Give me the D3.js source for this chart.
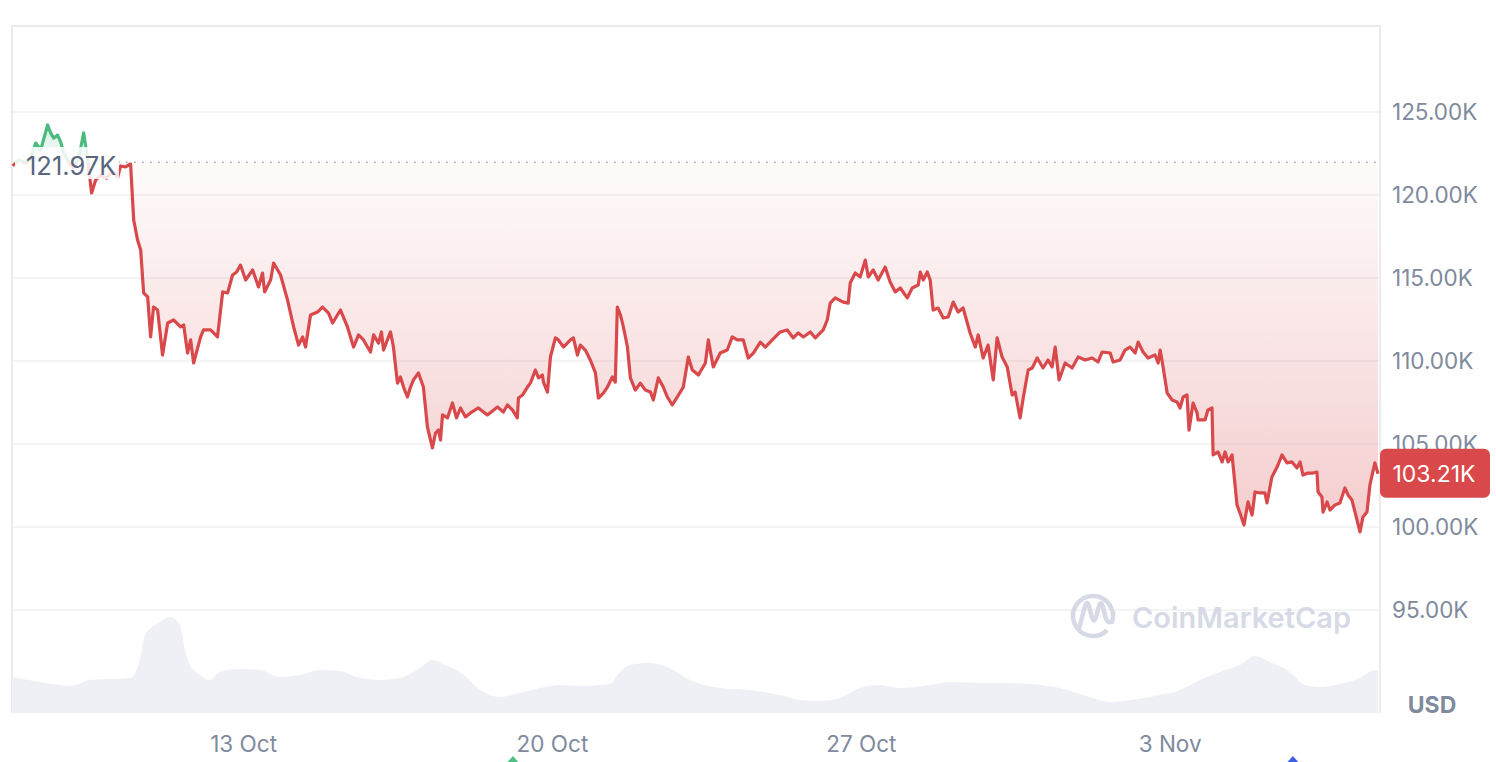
<!DOCTYPE html>
<html><head><meta charset="utf-8">
<script src="https://cdn.jsdelivr.net/npm/d3@7"></script>
<style>body{margin:0;background:#fff}svg{display:block;font-family:Inter,"Noto Sans",sans-serif}</style>
</head><body><svg id="c" width="1496" height="762"></svg>
<script>
// ---- data ----
const startTime = new Date(2025, 9, 7, 18, 0); // Oct 7 18:00
const endHour = 743.1;
const openPrice = 121.97; // reference (K USD)
const lastPrice = 103.21;
const priceHours = [0.4,3.6,7.4,10.2,12.9,15.6,19.4,21.0,22.7,24.8,26.5,28.1,30.8,33.5,36.3,39.0,41.2,43.3,45.5,48.2,51.5,54.8,57.5,59.1,61.8,64.5,66.2,68.3,70.0,71.6,73.8,75.4,77.0,79.2,81.9,84.7,87.9,91.7,93.4,95.5,97.2,98.8,102.6,104.2,108.0,111.8,114.6,117.3,120.0,122.2,124.3,127.1,130.9,134.1,136.3,137.4,140.7,142.3,146.1,149.9,153.2,155.9,158.1,159.7,162.4,166.2,168.9,172.2,174.4,178.7,182.5,185.8,188.5,191.2,193.4,195.0,196.7,199.4,201.0,202.1,205.9,207.5,209.7,211.3,213.0,215.1,216.8,218.4,221.1,223.8,226.0,228.7,230.4,232.0,233.1,234.2,236.9,239.6,241.8,244.0,246.7,249.4,253.7,258.6,264.1,267.3,269.5,272.2,274.9,275.5,277.7,280.4,282.0,284.7,286.4,288.5,289.1,291.3,292.9,295.6,297.2,300.0,303.8,305.4,307.6,309.2,311.9,314.6,317.4,319.0,321.7,323.9,326.6,328.2,329.3,331.0,332.6,334.8,336.4,339.1,341.8,344.5,347.3,348.9,351.6,354.3,356.5,359.2,361.9,365.2,367.9,370.1,373.4,377.2,378.8,381.5,385.3,389.1,391.8,394.6,397.8,400.5,403.3,407.1,409.8,413.6,417.9,421.7,425.0,427.7,430.5,434.3,437.0,441.3,443.5,445.1,447.8,452.2,454.9,456.0,458.7,461.4,464.2,465.8,468.5,471.2,475.0,477.7,480.5,483.2,487.0,489.7,493.0,494.1,495.7,497.9,499.5,501.1,503.8,506.6,509.3,512.0,514.7,517.4,521.2,524.0,525.6,528.3,531.0,533.8,535.9,538.6,541.4,544.1,545.7,548.4,550.1,552.8,555.0,557.7,560.9,563.6,565.8,567.5,569.6,572.9,576.7,580.0,583.8,587.6,590.8,593.0,597.4,599.0,602.8,605.5,608.2,611.0,612.6,615.3,618.0,621.8,623.5,624.6,626.2,628.4,631.1,633.8,635.4,637.1,639.2,640.3,642.5,644.7,645.2,649.0,650.6,652.8,653.4,656.1,658.3,659.9,661.5,663.7,666.4,668.0,670.2,672.4,674.6,676.2,678.9,681.6,682.7,685.4,688.2,690.9,693.6,696.3,699.0,700.7,702.3,705.0,707.7,709.9,710.5,712.6,713.2,715.4,717.0,719.7,722.4,725.1,726.8,728.9,730.6,733.3,734.9,737.1,738.7,741.4,743.1];
const prices = [121.75,122.11,121.93,122.23,123.13,122.71,124.22,123.74,123.43,123.61,123.19,122.53,121.99,121.63,122.23,123.74,122.11,120.12,120.90,121.20,121.02,121.39,121.08,121.75,121.69,121.87,118.49,117.29,116.69,114.10,113.86,111.45,113.25,113.07,110.36,112.29,112.47,112.05,112.17,110.48,111.27,109.88,111.45,111.87,111.87,111.45,114.16,114.10,115.18,115.36,115.78,114.88,115.48,114.46,115.30,114.16,114.88,115.90,115.18,113.67,112.05,110.96,111.45,110.84,112.77,112.95,113.25,112.89,112.29,113.07,112.05,110.84,111.57,111.27,110.84,110.54,111.57,111.08,111.75,110.66,111.75,110.84,108.67,109.04,108.43,107.83,108.43,108.86,109.28,108.43,106.02,104.76,105.66,105.84,105.24,106.75,106.57,107.47,106.57,107.17,106.63,106.87,107.17,106.75,107.23,106.93,107.35,107.05,106.57,107.77,107.95,108.43,108.67,109.46,108.98,109.16,108.73,108.13,110.24,111.39,111.27,110.84,111.27,111.39,110.36,110.96,110.66,110.06,109.28,107.77,108.07,108.43,109.04,108.73,113.25,112.77,112.05,110.84,108.98,108.25,108.67,108.25,108.13,107.65,108.98,108.43,107.83,107.35,107.83,108.43,110.24,109.46,109.16,109.88,111.27,109.64,110.48,110.66,111.45,111.27,111.27,110.18,110.48,111.14,110.84,111.27,111.75,111.87,111.39,111.69,111.45,111.75,111.39,111.87,112.47,113.49,113.80,113.55,113.49,114.70,115.30,115.06,116.08,115.06,115.48,114.88,115.66,114.76,114.16,114.40,113.80,114.40,114.58,115.36,114.88,115.36,114.88,113.07,113.19,112.59,112.65,113.55,112.95,113.19,111.69,110.84,111.57,110.18,110.96,108.86,111.39,110.24,109.64,107.95,108.13,106.57,107.77,109.46,109.58,110.18,109.58,110.06,109.64,110.84,108.86,109.88,109.58,110.24,110.06,110.18,109.94,110.54,110.48,109.94,110.06,110.66,110.84,110.48,111.14,110.54,110.18,110.36,109.88,110.66,109.64,108.07,107.65,107.53,107.17,107.83,107.95,105.84,107.47,106.87,106.45,106.45,107.05,107.17,104.34,104.52,103.92,104.52,103.92,104.34,101.33,100.84,100.12,101.51,100.72,102.11,102.05,102.05,101.45,103.01,103.61,104.34,103.86,103.92,103.55,103.92,103.13,103.25,103.25,103.31,102.11,101.81,100.90,101.51,101.02,101.33,101.45,102.35,101.93,101.63,100.90,99.70,100.60,100.90,102.53,103.86,103.21];
const volumeHours = [0,15.2,31.6,42.4,64.2,69.6,72.3,80.5,85.9,91.4,94.1,96.8,102.3,107.7,113.1,124.0,134.9,145.8,156.7,167.5,178.4,189.3,200.2,211.1,221.9,228.5,235.5,243.7,254.6,265.5,276.3,287.2,298.1,309.0,319.9,325.3,330.7,336.2,347.1,357.9,368.8,385.1,401.5,417.8,428.7,439.5,450.4,461.3,472.2,483.1,499.4,510.3,526.6,537.5,553.8,570.1,586.4,597.3,608.2,624.5,635.4,646.2,657.1,668.0,676.2,684.3,695.2,703.4,711.5,722.4,733.3,741.4,743.1];
const volumes = [72,62,54,66,70,106,156,182,192,176,126,96,76,66,82,88,86,72,76,86,84,70,66,70,90,106,96,82,46,32,40,50,56,54,56,58,82,96,100,90,66,50,46,36,26,24,30,50,56,50,56,62,60,60,58,50,32,22,26,36,46,66,82,96,114,102,82,56,52,58,70,86,86];
const yTicks = [95,100,105,110,115,120,125];
const yTickLabels = ["95.00K","100.00K","105.00K","110.00K","115.00K","120.00K","125.00K"];
const xTickDates = [new Date(2025,9,13), new Date(2025,9,20), new Date(2025,9,27), new Date(2025,10,3)];
const xTickLabels = ["13 Oct","20 Oct","27 Oct","3 Nov"];
const eventMarkers = [{date:new Date(2025,9,19,2,30), color:"#4fbf85"},{date:new Date(2025,10,5,18,48), color:"#3f5fe0"}];

// ---- layout ----
const L = 12, R = 1380, T = 26, B = 713;
const RED = "#d9484a", GREEN = "#4cbb7f", TXT = "#808a9d";
const svg = d3.select("#c");
const hr = h => new Date(+startTime + h * 3600e3);
const x = d3.scaleTime().domain([startTime, hr(endHour)]).range([L, 1378]);
const y = d3.scaleLinear().domain([100, 125]).range([527, 112]);
const yv = d3.scaleLinear().domain([0, 200]).range([B, B - 100]);

const pts = priceHours.map((h, i) => ({t: hr(h), v: prices[i]}));
const vols = volumeHours.map((h, i) => ({t: hr(h), v: volumes[i]}));

svg.append("rect").attr("width",1496).attr("height",762).attr("fill","#fff");

const defs = svg.append("defs");
const by = y(openPrice);
const gR = defs.append("linearGradient").attr("id","gR").attr("gradientUnits","userSpaceOnUse")
  .attr("x1",0).attr("x2",0).attr("y1",by).attr("y2",y(99.5));
gR.append("stop").attr("offset",0).attr("stop-color",RED).attr("stop-opacity",0.02);
gR.append("stop").attr("offset",1).attr("stop-color",RED).attr("stop-opacity",0.28);
const gG = defs.append("linearGradient").attr("id","gG").attr("gradientUnits","userSpaceOnUse")
  .attr("x1",0).attr("x2",0).attr("y1",by).attr("y2",y(124.5));
gG.append("stop").attr("offset",0).attr("stop-color",GREEN).attr("stop-opacity",0.03);
gG.append("stop").attr("offset",1).attr("stop-color",GREEN).attr("stop-opacity",0.25);
defs.append("clipPath").attr("id","above").append("rect").attr("x",0).attr("y",0).attr("width",1496).attr("height",by);
defs.append("clipPath").attr("id","below").append("rect").attr("x",0).attr("y",by).attr("width",1496).attr("height",762-by);

// grid
svg.append("g").selectAll("line").data(yTicks).join("line")
  .attr("x1",L).attr("x2",R).attr("y1",d=>y(d)).attr("y2",d=>y(d))
  .attr("stroke","#eef0f3").attr("stroke-width",1.5);
// frame
svg.append("path").attr("d",`M${L},${B}V${T}H${R}V${B}`).attr("fill","none").attr("stroke","#ebebeb").attr("stroke-width",2);

// volume
svg.append("path").datum(vols)
  .attr("d", d3.area().x(d=>x(d.t)).y0(B).y1(d=>yv(d.v)).curve(d3.curveMonotoneX))
  .attr("fill","#eff0f5");

// watermark
const wm = svg.append("g").attr("fill","none").attr("stroke","#d6dae6");
wm.append("path").attr("d", d3.arc().innerRadius(20).outerRadius(20).startAngle(0.75*Math.PI).endAngle(2.62*Math.PI)()).attr("transform","translate(1093,616)").attr("stroke-width",4.5);
wm.append("path").attr("d","M1079,629 L1085,606 Q1087,600 1089,606 L1092,618 Q1094,623 1096,617 L1099,606 Q1101,600 1103,607 L1106,619 Q1108,624 1112,621").attr("stroke-width",4.5).attr("stroke-linecap","round").attr("stroke-linejoin","round");
svg.append("text").attr("x",1132).attr("y",628).attr("font-size",29).attr("font-weight",600).attr("fill","#d6dae6").text("CoinMarketCap");

// areas
const area = d3.area().x(d=>x(d.t)).y0(by).y1(d=>y(d.v));
svg.append("path").datum(pts).attr("d",area).attr("fill","url(#gR)").attr("clip-path","url(#below)");
svg.append("path").datum(pts).attr("d",area).attr("fill","url(#gG)").attr("clip-path","url(#above)");

// dotted reference line
svg.append("line").attr("x1",118).attr("x2",1378).attr("y1",by).attr("y2",by)
  .attr("stroke","#9aa0ab").attr("stroke-width",1.6).attr("stroke-dasharray","1.6,6.4");

// price lines
const line = d3.line().x(d=>x(d.t)).y(d=>y(d.v));
svg.append("path").datum(pts).attr("d",line).attr("fill","none").attr("stroke",RED).attr("stroke-width",3.2).attr("stroke-linejoin","round").attr("clip-path","url(#below)");
svg.append("path").datum(pts).attr("d",line).attr("fill","none").attr("stroke",GREEN).attr("stroke-width",3.2).attr("stroke-linejoin","round").attr("clip-path","url(#above)");

// open label
svg.append("rect").attr("x",15).attr("y",147).attr("width",104).attr("height",32).attr("fill","#fff").attr("opacity",0.85);
svg.append("text").attr("x",26).attr("y",175).attr("font-size",25.5).attr("fill","#58667e").text(openPrice.toFixed(2)+"K");

// y axis labels
svg.append("g").selectAll("text").data(yTicks).join("text")
  .attr("x",1392).attr("y",d=>y(d)+8).attr("font-size",22.5).attr("fill",TXT)
  .text((d,i)=>yTickLabels[i]);

// last price badge
svg.append("rect").attr("x",1380).attr("y",y(lastPrice)-25).attr("width",110).attr("height",49).attr("rx",6).attr("fill",RED);
svg.append("text").attr("x",1434).attr("y",y(lastPrice)+8).attr("text-anchor","middle").attr("font-size",23).attr("fill","#fff").text(lastPrice.toFixed(2)+"K");

// USD
svg.append("text").attr("x",1432).attr("y",713).attr("text-anchor","middle").attr("font-size",23).attr("font-weight",700).attr("fill",TXT).text("USD");

// x axis labels
svg.append("g").selectAll("text").data(xTickDates).join("text")
  .attr("x",d=>x(d)).attr("y",752).attr("text-anchor","middle").attr("font-size",22.5).attr("fill",TXT)
  .text((d,i)=>xTickLabels[i]);

// event markers
svg.append("g").selectAll("path").data(eventMarkers).join("path")
  .attr("d",d=>{const cx=x(d.date);return `M${cx-9},766 L${cx},756 L${cx+9},766 Z`;})
  .attr("fill",d=>d.color);
</script></body></html>
